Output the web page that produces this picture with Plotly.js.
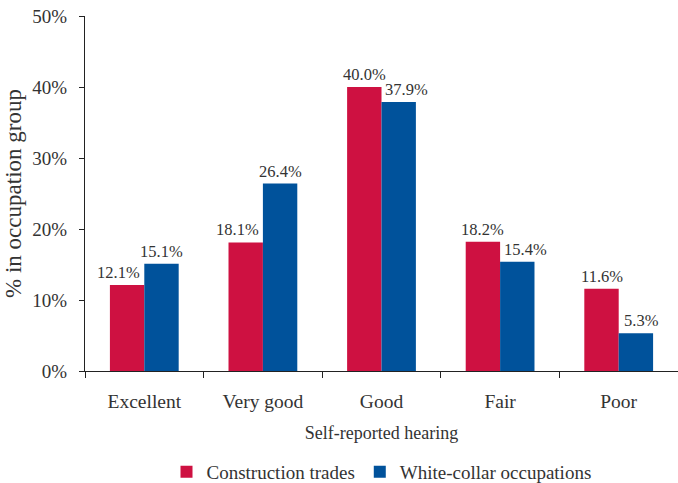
<!DOCTYPE html>
<html>
<head>
<meta charset="utf-8">
<script src="https://cdn.plot.ly/plotly-3.0.1.min.js"></script>
<style>html,body{margin:0;padding:0;background:#fff;}#chart{width:678px;height:483px;}</style>
</head>
<body>
<div id="chart"></div>
<script>
const categories = ["Excellent", "Very good", "Good", "Fair", "Poor"];
const seriesNames = ["Construction trades", "White-collar occupations"];
const construction = [12.1, 18.1, 40.0, 18.2, 11.6];
const whiteCollar = [15.1, 26.4, 37.9, 15.4, 5.3];

// styling (kept separate from data)
const colors = ["#CE1141", "#00529B"];
const textColor = "#333333";
const nudgeRed = [-9, -8, 0, 0, 0];
const nudgeBlue = [0, 0, 8, 8, 6];

const bargap = 0.42;
const half = (1 - bargap) / 4;

function labelAnns(vals, offset, nudges) {
  return vals.map((v, i) => ({
    x: i + offset, y: v, xref: 'x', yref: 'y',
    text: v.toFixed(1) + '%', showarrow: false,
    yanchor: 'bottom', xanchor: 'center', xshift: nudges[i], yshift: 1,
    font: {family: 'Liberation Serif, Times New Roman, serif', size: 16.5, color: textColor}
  }));
}

const traces = [
  {type: 'bar', name: seriesNames[0], x: categories, y: construction, marker: {color: colors[0]}},
  {type: 'bar', name: seriesNames[1], x: categories, y: whiteCollar, marker: {color: colors[1]}}
];

const layout = {
  width: 678, height: 483,
  margin: {l: 85, r: 0, t: 16, b: 112},
  paper_bgcolor: '#fff', plot_bgcolor: '#fff',
  font: {family: 'Liberation Serif, Times New Roman, serif', size: 19, color: textColor},
  barmode: 'group', bargap: bargap, bargroupgap: 0,
  showlegend: true,
  legend: {orientation: 'h', x: 0.5, xanchor: 'center', yref: 'container', y: 0.023, yanchor: 'middle',
    font: {size: 19, color: textColor}, itemwidth: 30, traceorder: 'normal'},
  xaxis: {
    type: 'category', showline: true, linecolor: '#222', linewidth: 1.2, automargin: false,
    ticks: 'outside', tickson: 'boundaries', ticklen: 6, tickcolor: '#222',
    showgrid: false, tickfont: {size: 19.5}, ticklabelstandoff: 12,
    title: {text: 'Self-reported hearing', font: {size: 18}, standoff: 15}
  },
  yaxis: {
    range: [0, 50], dtick: 10, ticksuffix: '%', showline: true, linecolor: '#222', linewidth: 1.2,
    automargin: false,
    ticks: 'outside', ticklen: 5, tickcolor: '#222', showgrid: false, zeroline: false,
    tickfont: {size: 19}, ticklabelstandoff: 8,
    title: {text: '% in occupation group', font: {size: 23}, standoff: 4}
  },
  annotations: labelAnns(construction, -half, nudgeRed).concat(labelAnns(whiteCollar, half, nudgeBlue))
};

Plotly.newPlot('chart', traces, layout, {displayModeBar: false, staticPlot: true});
</script>
</body>
</html>
